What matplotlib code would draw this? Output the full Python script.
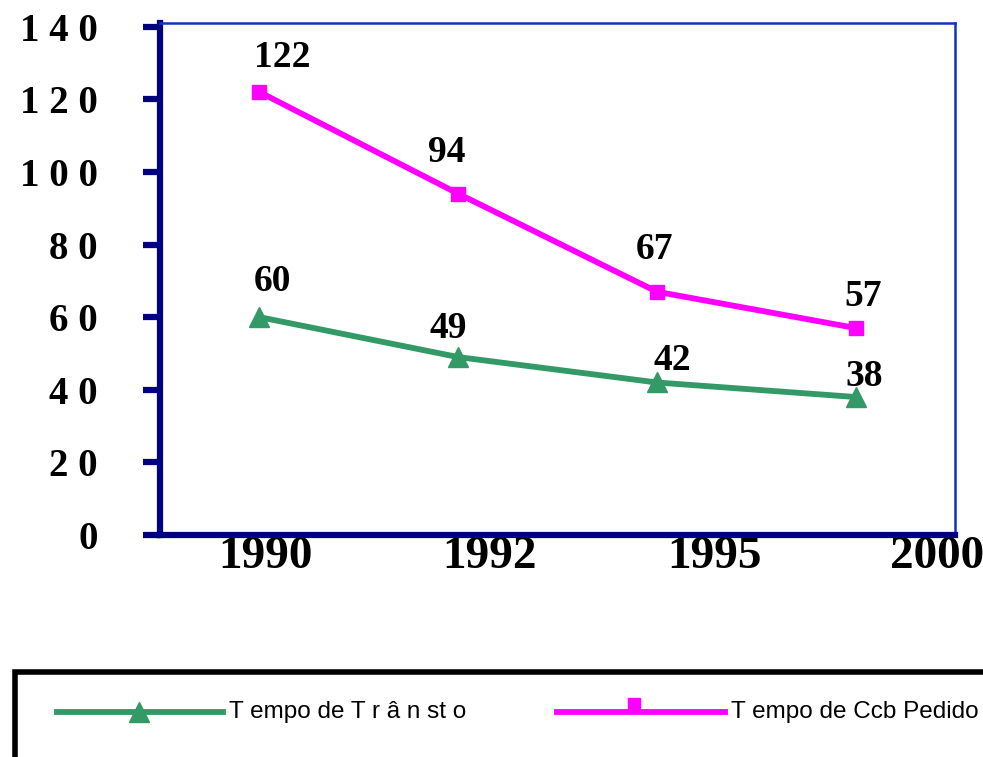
import matplotlib.pyplot as plt
from matplotlib.lines import Line2D
from matplotlib.patches import Rectangle

# dados do gráfico
anos = ['1990', '1992', '1995', '2000']
transito = [60, 49, 42, 38]
ciclo_pedido = [122, 94, 67, 57]
nome_transito = 'T empo de T r â n st o'
nome_ciclo = 'T empo de Ccb Pedido'
y_ticks = [0, 20, 40, 60, 80, 100, 120, 140]

# deslocamentos (pixels) dos rótulos de valor
off_transito = [(13, 36), (-10, 29), (15, 22), (9, 21)]
off_ciclo = [(23, 34), (-11, 41), (-2, 42), (8, 32)]
# posição dos rótulos do eixo x (desalinhados como no original)
pos_anos = [0.03, 1.16, 2.29, 3.41]

VERDE = '#339966'
ROSA = '#FF00FF'
NAVY = '#000080'
SERIF = ['Liberation Serif', 'DejaVu Serif']
NARROW = ['Liberation Sans Narrow', 'Liberation Sans', 'DejaVu Sans']

fig = plt.figure(figsize=(9.83, 7.57), dpi=100)
ax = fig.add_axes([160 / 983, 1 - 535 / 757, 795 / 983, 512 / 757])

x = list(range(len(anos)))
ax.plot(x, transito, color=VERDE, lw=4.2, marker='^', ms=14, zorder=3)
ax.plot(x, ciclo_pedido, color=ROSA, lw=4.2, marker='s', ms=10, zorder=3)

for i, v in enumerate(transito):
    ax.annotate(str(v), (x[i], v), xytext=off_transito[i], textcoords='offset pixels',
                ha='center', va='center', fontsize=27, fontweight='bold', family=SERIF)
for i, v in enumerate(ciclo_pedido):
    ax.annotate(str(v), (x[i], v), xytext=off_ciclo[i], textcoords='offset pixels',
                ha='center', va='center', fontsize=27, fontweight='bold', family=SERIF)

ax.set_xlim(-0.5, 3.5)
ax.set_ylim(0, 141)

# eixos
ax.spines['left'].set_color(NAVY)
ax.spines['left'].set_linewidth(4.5)
ax.spines['bottom'].set_color(NAVY)
ax.spines['bottom'].set_linewidth(4.5)
ax.spines['top'].set_color('#1133BB')
ax.spines['top'].set_linewidth(1.8)
ax.spines['right'].set_color('#1133BB')
ax.spines['right'].set_linewidth(1.8)

ax.set_yticks(y_ticks)
ax.set_yticklabels([' '.join(str(t)) for t in y_ticks], fontsize=28, fontweight='bold',
                   family=SERIF)
ax.tick_params(axis='y', length=12, width=4.5, color=NAVY, pad=33)

ax.set_xticks(pos_anos)
ax.set_xticklabels(anos, fontsize=34, fontweight='bold', family=SERIF)
ax.tick_params(axis='x', length=0, pad=1)

# legenda desenhada à mão
fig.add_artist(Rectangle((15 / 983, -0.05), 1.0, (757 - 672) / 757 + 0.05,
                         transform=fig.transFigure, fill=False, edgecolor='black',
                         lw=4, clip_on=False))
y_leg = 1 - 712 / 757
fig.add_artist(Line2D([57 / 983, 223 / 983], [y_leg, y_leg], transform=fig.transFigure,
                      color=VERDE, lw=4.2))
fig.add_artist(Line2D([139 / 983], [y_leg], transform=fig.transFigure, color=VERDE,
                      marker='^', ms=14, lw=0))
fig.text(229 / 983, y_leg, nome_transito, fontsize=17.5, family=NARROW, va='center')
fig.add_artist(Line2D([557 / 983, 725 / 983], [y_leg, y_leg], transform=fig.transFigure,
                      color=ROSA, lw=4.2))
fig.add_artist(Line2D([634 / 983], [y_leg + 0.01], transform=fig.transFigure, color=ROSA,
                      marker='s', ms=9, lw=0))
fig.text(731 / 983, y_leg, nome_ciclo, fontsize=17.5, family=NARROW, va='center')

fig.savefig('out.png', dpi=100)
